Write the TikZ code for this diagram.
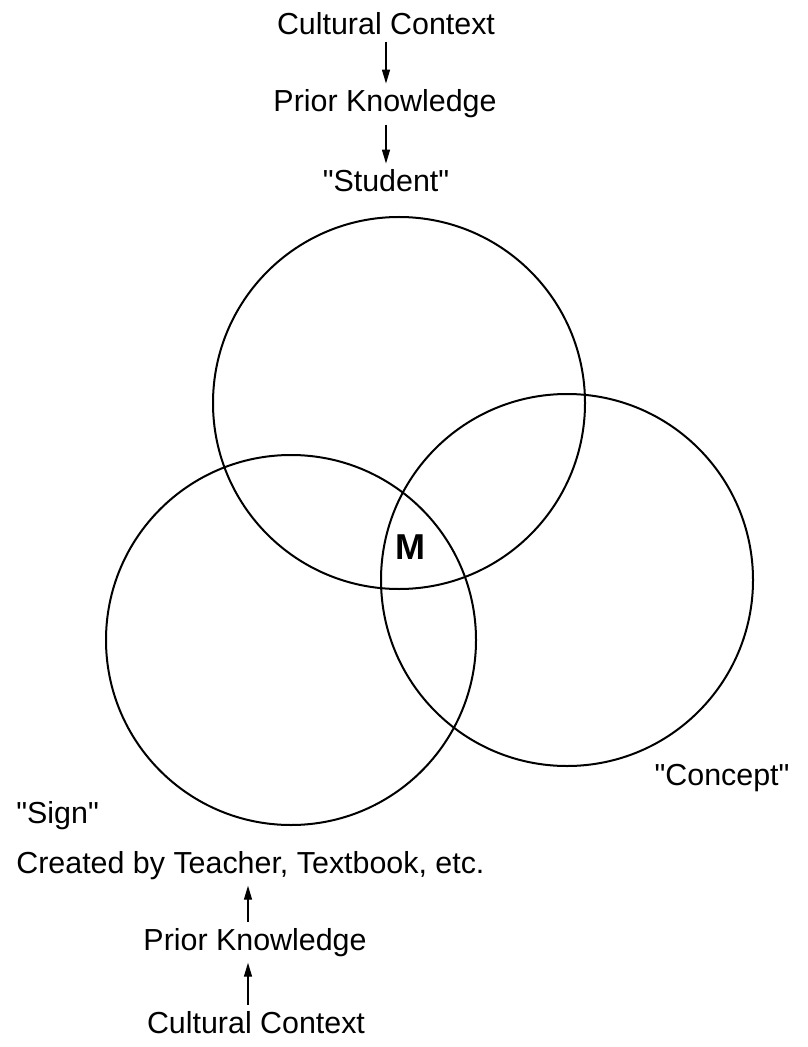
\documentclass[tikz,border=0pt]{standalone}
\usepackage{fontspec}
\setmainfont{Liberation Sans}[Ligatures=TeXOff]
\usetikzlibrary{arrows.meta}

\begin{document}
\begin{tikzpicture}[x=0.5pt, y=-0.5pt,
  term/.style ={font=\fontsize{15.2}{18}\selectfont, inner sep=3pt,
    anchor=base},
  %
  meet/.style ={font=\fontsize{18}{20}\selectfont\bfseries},
  %
  ring/.style ={draw, line width=1pt},
  flow/.style ={-{Triangle[length=7pt, width=4pt]}, line width=.7pt} ]

  \useasboundingbox (0,0) rectangle (807,1047);

  \begin{scope}
    %%%%%%%%%%%%%%%%%%%%%%%%%%%%%%% student side
    \coordinate (axisS) at (386,0);
    \node [term] (cultureS) at (386,35) {Cultural Context};
    \node [term] (priorS) at (385,112) {Prior Knowledge};
    \node [term] (student) at (386,192) {"Student"};
    %%%%%%%%%%%%%%%%%%%%%%%%%%%%%%% the three circles
    \draw [ring] (399,403) circle [radius=186];
    \draw [ring] (567,580) circle [radius=186];
    \draw [ring] (291,640) circle [radius=185];
    \node [meet] (meaning) at (410,547) {M};
    \node [term] (concept) at (722,785) {"Concept"};
    %%%%%%%%%%%%%%%%%%%%%%%%%%%%%%% sign side
    \node [term, anchor=base west] (sign) at (10,823) {"Sign"};
    \node [term, anchor=base west] (created) at (10,873)
      {Created by Teacher, Textbook, etc.};
    \coordinate (axisB) at (248,0);
    \node [term] (priorB) at (255,950) {Prior Knowledge};
    \node [term] (cultureB) at (256,1033) {Cultural Context};
  \end{scope}

  \begin{scope}
    \draw [flow] (cultureS.south -| axisS) -- (priorS.north -| axisS);
    \draw [flow] (priorS.south -| axisS) -- (student.north -| axisS);
    \draw [flow] (priorB.north -| axisB) -- (created.south -| axisB);
    \draw [flow] (cultureB.north -| axisB) -- (priorB.south -| axisB);
  \end{scope}

\end{tikzpicture}
\end{document}
